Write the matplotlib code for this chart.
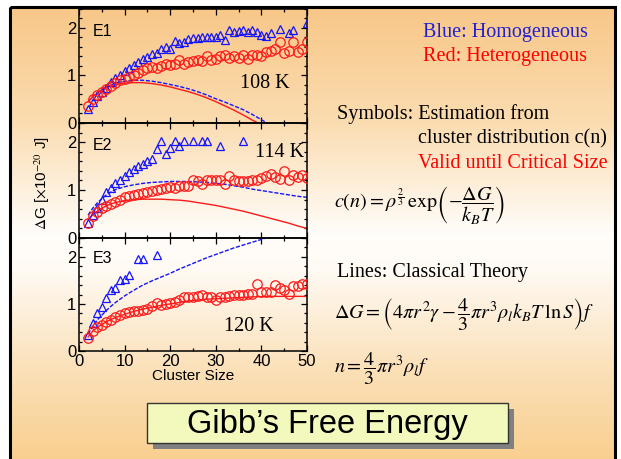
import matplotlib
matplotlib.use("Agg")
import matplotlib.pyplot as plt
import numpy as np
from matplotlib.patches import Rectangle
from matplotlib.ticker import MultipleLocator
from matplotlib.colors import to_rgb

plt.rcParams['mathtext.fontset'] = 'stix'

W, H = 621, 459

# cluster sizes for the estimated points
n_sym = np.arange(2, 51)
nan = np.nan

# 108 K
blue_sym_1 = [0.29, 0.45, 0.56, 0.65, 0.74, 0.86, 0.95, 1.02, 1.09,
              1.16, 1.23, 1.29, 1.34, 1.38, 1.45, 1.48, 1.55, 1.59, 1.55,
              1.72, 1.68, 1.70, 1.76, 1.78, 1.78, 1.80, 1.80, 1.82, 1.80,
              1.85, 1.74, 1.96, 1.92, 1.94, 1.96, 1.92, 1.95, 1.92, 1.85,
              1.84, 1.90, nan, 1.98, nan, 1.90, 1.96, nan, nan, 2.10]
red_sym_1 = [0.36, 0.50, 0.58, 0.65, 0.72, 0.78, 0.85, 0.90, 0.93,
             0.97, 1.00, 1.05, 1.12, 1.15, 1.18, 1.15, 1.20, 1.25, 1.22,
             1.25, 1.33, 1.25, 1.28, 1.30, 1.33, 1.30, 1.40, 1.32, 1.35,
             1.40, 1.44, 1.36, 1.41, 1.36, 1.44, 1.34, 1.44, 1.44, 1.41,
             1.50, 1.52, 1.55, 1.70, 1.48, 1.52, 1.70, 1.50, 1.55, 1.70]
n_red_line_1 = [2, 3, 4, 5, 6, 7, 8, 10, 12, 14, 16, 18, 20, 22, 24, 26, 28, 30, 32, 34, 36, 38, 39.3]
red_line_1 = [0.45, 0.55, 0.63, 0.69, 0.74, 0.78, 0.81, 0.84, 0.85, 0.85, 0.83, 0.80, 0.76, 0.71,
              0.66, 0.60, 0.53, 0.45, 0.36, 0.27, 0.17, 0.06, 0.0]
n_blue_line_1 = [2, 3, 4, 5, 6, 7, 8, 10, 12, 14, 16, 18, 20, 22, 24, 26, 28, 30, 32, 34, 36, 38, 40, 41.2]
blue_line_1 = [0.45, 0.56, 0.64, 0.71, 0.76, 0.80, 0.84, 0.88, 0.90, 0.90, 0.88, 0.85, 0.81, 0.77,
               0.72, 0.66, 0.59, 0.51, 0.44, 0.36, 0.28, 0.18, 0.07, 0.0]

# 114 K
blue_sym_2 = [0.32, 0.48, 0.62, 0.79, 0.95, 1.05, 1.15, 1.22, 1.30,
              1.37, 1.43, 1.50, 1.55, 1.60, 1.65, 1.85, 2.02, 1.75, 1.88,
              2.02, 1.92, 2.02, nan, 2.02, nan, 2.02, 2.02, nan, nan,
              1.92, nan, nan, nan, nan, 2.02, nan, nan, nan, nan,
              nan, nan, nan, nan, nan, nan, nan, nan, nan, nan]
red_sym_2 = [0.32, 0.45, 0.55, 0.62, 0.67, 0.72, 0.76, 0.80, 0.85,
             0.87, 0.90, 0.92, 0.93, 0.97, 0.98, 1.01, 1.02, 1.04, 1.06,
             1.05, 1.08, 1.09, 1.09, 1.21, 1.19, 1.12, 1.22, 1.22, 1.20,
             1.21, 1.12, 1.30, 1.20, 1.18, 1.18, 1.18, 1.20, 1.22, 1.25,
             1.29, 1.34, 1.28, 1.23, 1.39, 1.20, 1.32, 1.28, 1.32, 1.25]
n_line = [2, 3, 4, 5, 6, 7, 8, 10, 12, 14, 16, 18, 20, 22, 24, 26, 28, 30, 32, 34, 36, 38, 40, 42, 44, 46, 48, 50]
red_line_2 = [0.38, 0.48, 0.56, 0.62, 0.67, 0.71, 0.74, 0.78, 0.80, 0.81, 0.81, 0.81, 0.80, 0.79,
              0.77, 0.74, 0.71, 0.68, 0.64, 0.60, 0.56, 0.51, 0.46, 0.41, 0.36, 0.31, 0.25, 0.20]
blue_line_2 = [0.48, 0.62, 0.73, 0.82, 0.90, 0.96, 1.01, 1.07, 1.11, 1.14, 1.16, 1.17, 1.18, 1.18,
               1.18, 1.17, 1.16, 1.14, 1.12, 1.09, 1.06, 1.02, 0.99, 0.96, 0.93, 0.90, 0.87, 0.85]

# 120 K
blue_sym_3 = [0.34, 0.60, 0.80, 0.94, 1.12, 1.29, 1.33, 1.50, 1.52,
              1.61, nan, 1.96, 1.96, nan, nan, 2.03] + [nan] * 33
red_sym_3 = [0.28, 0.43, 0.50, 0.55, 0.62, 0.66, 0.73, 0.77, 0.80,
             0.82, 0.84, 0.86, 0.88, 0.90, 0.95, 1.01, 0.98, 1.00, 1.02,
             1.05, 1.08, 1.15, 1.14, 1.15, 1.17, 1.19, 1.14, 1.14, 1.08,
             1.15, 1.14, 1.16, 1.19, 1.19, 1.20, 1.22, 1.22, 1.43, 1.26,
             1.26, 1.25, 1.40, 1.33, 1.29, 1.22, 1.37, 1.37, 1.43, 1.43]
red_line_3 = [0.30, 0.42, 0.50, 0.56, 0.62, 0.67, 0.71, 0.78, 0.84, 0.89, 0.93, 0.97, 1.00, 1.03,
              1.06, 1.08, 1.10, 1.11, 1.12, 1.13, 1.14, 1.15, 1.155, 1.16, 1.16, 1.16, 1.16, 1.16]
blue_line_3 = [0.36, 0.52, 0.66, 0.76, 0.86, 0.95, 1.03, 1.17, 1.29, 1.40, 1.49, 1.57, 1.65, 1.74,
               1.82, 1.90, 1.98, 2.05, 2.12, 2.19, 2.25, 2.31, 2.37, 2.43, 2.49, 2.55, 2.61, 2.67]

panel_names = ['E1', 'E2', 'E3']
temps = ['108 K', '114 K', '120 K']

BLUE = '#1414ff'
RED = '#ff1a1a'


def fx(px):
    return px / W


def fy(py):
    return 1 - py / H


fig = plt.figure(figsize=(W / 100, H / 100), dpi=100)

# slide background: orange -> white -> orange
bg = fig.add_axes([0, 0, 1, 1])
bg.set_xlim(0, W)
bg.set_ylim(H, 0)
bg.axis('off')
stops = [0.0, 0.25, 0.5, 0.58, 0.8, 1.0]
cols = np.array([to_rgb(c) for c in ['#f8c788', '#fbdcb0', '#fffdfa', '#fffaf3', '#fbe0b8', '#f9cf8e']])
t = np.linspace(0, 1, 300)
grad = np.stack([np.interp(t, stops, cols[:, k]) for k in range(3)], axis=-1)[:, None, :]
bg.imshow(grad, extent=(10, 615, 462, 7), aspect='auto', zorder=0)
bg.add_patch(Rectangle((10, 7), 605, 460, fill=False, ec='black', lw=2.2, zorder=2))

# title box with drop shadow
bg.add_patch(Rectangle((153, 409), 361, 40, fc='#808080', ec='none', zorder=3))
bg.add_patch(Rectangle((147, 403), 361, 40, fc='#f3f9bd', ec='#333333', lw=1.0, zorder=4))
bg.text(327, 424, 'Gibb\u2019s Free Energy', fontsize=23.5, family='Liberation Sans',
        ha='center', va='center', zorder=5)

# panels
tops = [9, 123, 238]
bots = [123, 238, 351]
sym_sets = [(blue_sym_1, red_sym_1), (blue_sym_2, red_sym_2), (blue_sym_3, red_sym_3)]
line_sets = [((n_blue_line_1, blue_line_1), (n_red_line_1, red_line_1)),
             ((n_line, blue_line_2), (n_line, red_line_2)),
             ((n_line, blue_line_3), (n_line, red_line_3))]
name_y = [0.80, 0.80, 0.82]
temp_pos = [(0.816, 0.35), (0.88, 0.745), (0.745, 0.22)]

for i in range(3):
    ax = fig.add_axes([fx(79), fy(bots[i]), fx(307) - fx(79), (bots[i] - tops[i]) / H])
    ax.set_facecolor('none')
    (nb, vb), (nr, vr) = line_sets[i]
    ax.plot(nb, vb, color=BLUE, lw=1.0, ls=(0, (3, 1.2)), zorder=2)
    ax.plot(nr, vr, color=RED, lw=1.0, zorder=2)
    ax.plot(n_sym, sym_sets[i][0], ls='none', marker='^', ms=6.4, mfc='none', mec=BLUE, mew=0.9, zorder=3)
    ax.plot(n_sym, sym_sets[i][1], ls='none', marker='o', ms=6.8, mfc='none', mec=RED, mew=0.9, zorder=3)
    ax.set_xlim(0, 50)
    ax.set_ylim(0, 2.4)
    ax.xaxis.set_major_locator(MultipleLocator(10))
    ax.xaxis.set_minor_locator(MultipleLocator(5))
    ax.yaxis.set_major_locator(MultipleLocator(1))
    ax.yaxis.set_minor_locator(MultipleLocator(0.2))
    ax.tick_params(which='both', direction='in', top=True, right=True, width=0.9)
    ax.tick_params(which='major', length=4.5, labelsize=12, pad=2)
    ax.tick_params(which='minor', length=2.5)
    for lab in ax.get_xticklabels() + ax.get_yticklabels():
        lab.set_family('Liberation Sans')
    for s in ax.spines.values():
        s.set_linewidth(1.1)
    if i < 2:
        ax.set_xticklabels([])
    else:
        ax.set_xlabel('Cluster Size', fontsize=11, family='Liberation Sans', labelpad=0)
    ax.text(0.061, name_y[i], panel_names[i], transform=ax.transAxes, fontsize=11.5,
            family='Liberation Sans', va='center', ha='left')
    ax.text(*temp_pos[i], temps[i], transform=ax.transAxes, fontsize=14.5,
            family='Liberation Serif', ha='center', va='center')

fig.text(fx(42), fy(183), r'$\Delta$G [$\times$10$^{-20}$ J]', rotation=90, fontsize=11,
         family='Liberation Sans', ha='center', va='center')

# explanatory text
serif = dict(family='Liberation Serif', fontsize=14.5, va='center')
fig.text(fx(505), fy(33), 'Blue: Homogeneous', color='#2020d0', ha='center', **serif)
fig.text(fx(505), fy(57), 'Red: Heterogeneous', color='#ff0000', ha='center', **serif)
fig.text(fx(337), fy(114), 'Symbols: Estimation from', ha='left', **serif)
fig.text(fx(418), fy(139), 'cluster distribution c(n)', ha='left', **serif)
fig.text(fx(418), fy(163), 'Valid until Critical Size', color='#ff0000', ha='left', **serif)
fig.text(fx(337), fy(272), 'Lines: Classical Theory', ha='left', **serif)

fig.text(fx(334), fy(205), r'$c\left(n\right)=\rho^{\frac{2}{3}}\,\mathrm{exp}\left(-\dfrac{\Delta G}{k_B T}\right)$',
         fontsize=14.5, ha='left', va='center')
fig.text(fx(334), fy(315), r'$\Delta G=\left(4\pi r^2\gamma-\dfrac{4}{3}\pi r^3\rho_l k_B T\,\mathrm{ln}\,S\right)f$',
         fontsize=14.5, ha='left', va='center')
fig.text(fx(334), fy(369), r'$n=\dfrac{4}{3}\pi r^3\rho_l f$',
         fontsize=14.5, ha='left', va='center')

fig.savefig('out.png', dpi=100, facecolor='white')
